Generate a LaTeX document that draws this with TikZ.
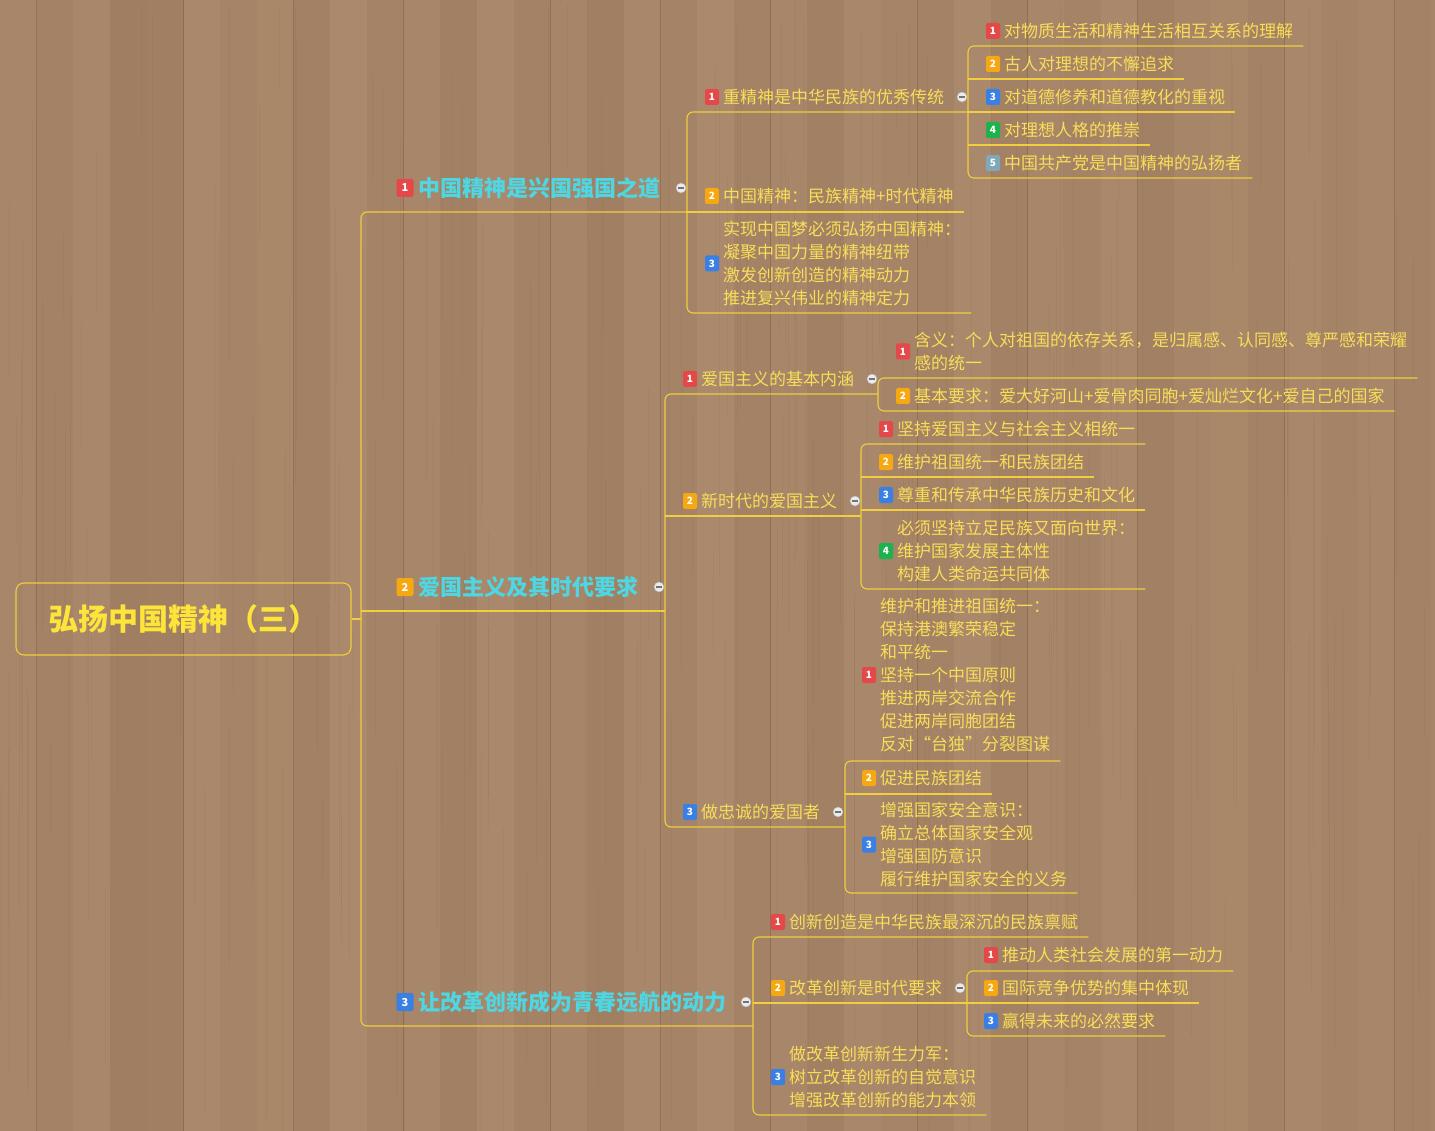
\documentclass[tikz,border=0pt]{standalone}
\usepackage{fontspec}
\setmainfont{Noto Sans CJK SC}
\usetikzlibrary{calc}
\definecolor{woodL}{RGB}{182,148,118}
\definecolor{woodD}{RGB}{150,116,88}
\definecolor{seamc}{RGB}{128,96,72}
\definecolor{linec}{RGB}{240,206,62}
\definecolor{leafc}{RGB}{248,222,88}
\definecolor{rootc}{RGB}{252,228,58}
\definecolor{cyanc}{RGB}{78,214,226}
\definecolor{redc}{RGB}{228,72,72}
\definecolor{orgc}{RGB}{246,168,18}
\definecolor{bluec}{RGB}{58,128,228}
\definecolor{grnc}{RGB}{28,178,78}
\definecolor{gryc}{RGB}{128,168,184}
\newcommand\mtopic[7]{\node[badge,fill=#2] (#1b) at (#4,#5) {#3};\node[leaf] (#1) at (#6,#5) {#7};}
\newcommand\ulline[3]{\draw[br] (#2,#3) -- ($(#1.east |- 0,#3)+(10,0)$);}
\begin{document}
\begin{tikzpicture}[x=1pt,y=-1pt,
  br/.style={draw=linec,line width=1.1pt},
  badge/.style={rectangle,rounded corners=2pt,minimum width=14pt,minimum height=16pt,inner sep=0pt,text=white,font=\fontsize{10}{10}\selectfont\bfseries},
  bigbadge/.style={badge,minimum width=17pt,minimum height=18pt,font=\fontsize{11}{11}\selectfont\bfseries},
  leaf/.style={anchor=west,inner sep=0pt,align=left,text=leafc,font=\fontsize{17}{23}\selectfont},
  branch/.style={anchor=west,inner sep=0pt,text=cyanc,font=\fontsize{22}{26}\selectfont\bfseries},
  mincirc/.style={circle,fill=white!92!black,draw=black!30,line width=0.5pt,minimum size=10pt,inner sep=0pt,
    path picture={\draw[black!55,line width=1.3pt] ([xshift=-2.6pt]path picture bounding box.center) -- ([xshift=2.6pt]path picture bounding box.center);}},
  seam/.style={draw=seamc,line width=0.6pt,opacity=0.55},
  grain/.style={draw=seamc,line width=0.5pt,opacity=0.12}
]
\useasboundingbox (0,0) rectangle (1435,1131);
% wood background
\fill[woodL!55!woodD] (0,0) rectangle (1435,1131);
\foreach \i/\p in {0/55,1/45,2/60,3/30,4/35,5/62,6/50,7/58,8/40,9/66,10/48,11/55,12/38,13/62,14/45,15/52,16/35,17/60,18/48,19/65,20/42,21/55,22/36,23/60,24/50,25/44,26/63,27/40,28/56,29/47,30/62,31/38,32/52,33/58,34/43,35/60,36/48,37/55,38/45,39/52} {
  \fill[woodL!\p!woodD] ({\i*36.7},0) rectangle ({(\i+1)*36.7},1131);
  \draw[seam] ({(\i+1)*36.7},0) -- ({(\i+1)*36.7},1131);
}
\pgfmathsetseed{11}
\foreach \k in {1,...,220} {
  \pgfmathsetmacro\gx{rnd*1435}
  \pgfmathsetmacro\gy{rnd*900}
  \pgfmathsetmacro\gl{80+rnd*400}
  \draw[grain] (\gx,\gy) -- (\gx,\gy+\gl);
}
% root
\node[draw=linec,line width=1.1pt,rounded corners=8pt,minimum width=335pt,minimum height=72pt,inner sep=0pt,text=rootc,font=\fontsize{30}{34}\selectfont\bfseries] (root) at (183.5,619) {弘扬中国精神（三）};
% main branches
\node[bigbadge,fill=redc] (b1b) at (405,188) {1};
\node[branch] (b1) at (418,188) {中国精神是兴国强国之道};
\node[bigbadge,fill=orgc] (b2b) at (405,587) {2};
\node[branch] (b2) at (418,587) {爱国主义及其时代要求};
\node[bigbadge,fill=bluec] (b3b) at (405,1002) {3};
\node[branch] (b3) at (418,1002) {让改革创新成为青春远航的动力};
% branch 1
\mtopic{s11}{redc}{1}{712}{97}{723}{重精神是中华民族的优秀传统}
\mtopic{s12}{orgc}{2}{712}{196}{723}{中国精神：民族精神+时代精神}
\mtopic{s13}{bluec}{3}{712}{263.5}{723}{实现中国梦必须弘扬中国精神：\\凝聚中国力量的精神纽带\\激发创新创造的精神动力\\推进复兴伟业的精神定力}
\mtopic{l111}{redc}{1}{993}{31}{1004}{对物质生活和精神生活相互关系的理解}
\mtopic{l112}{orgc}{2}{993}{64}{1004}{古人对理想的不懈追求}
\mtopic{l113}{bluec}{3}{993}{97}{1004}{对道德修养和道德教化的重视}
\mtopic{l114}{grnc}{4}{993}{130}{1004}{对理想人格的推崇}
\mtopic{l115}{gryc}{5}{993}{163}{1004}{中国共产党是中国精神的弘扬者}
% branch 2
\mtopic{s21}{redc}{1}{690}{379}{701}{爱国主义的基本内涵}
\mtopic{l211}{redc}{1}{903}{351.5}{914}{含义：个人对祖国的依存关系，是归属感、认同感、尊严感和荣耀\\感的统一}
\mtopic{l212}{orgc}{2}{903}{396}{914}{基本要求：爱大好河山+爱骨肉同胞+爱灿烂文化+爱自己的国家}
\mtopic{s22}{orgc}{2}{690}{501}{701}{新时代的爱国主义}
\mtopic{l221}{redc}{1}{886}{429}{897}{坚持爱国主义与社会主义相统一}
\mtopic{l222}{orgc}{2}{886}{462}{897}{维护祖国统一和民族团结}
\mtopic{l223}{bluec}{3}{886}{495}{897}{尊重和传承中华民族历史和文化}
\mtopic{l224}{grnc}{4}{886}{551}{897}{必须坚持立足民族又面向世界：\\维护国家发展主体性\\构建人类命运共同体}
\mtopic{s23}{bluec}{3}{690}{812}{701}{做忠诚的爱国者}
\mtopic{l231}{redc}{1}{869}{675}{880}{维护和推进祖国统一：\\保持港澳繁荣稳定\\和平统一\\坚持一个中国原则\\推进两岸交流合作\\促进两岸同胞团结\\反对“台独”分裂图谋}
\mtopic{l232}{orgc}{2}{869}{778}{880}{促进民族团结}
\mtopic{l233}{bluec}{3}{869}{844.5}{880}{增强国家安全意识：\\确立总体国家安全观\\增强国防意识\\履行维护国家安全的义务}
% branch 3
\mtopic{s31}{redc}{1}{778}{922}{789}{创新创造是中华民族最深沉的民族禀赋}
\mtopic{s32}{orgc}{2}{778}{988}{789}{改革创新是时代要求}
\mtopic{l321}{redc}{1}{991}{955}{1002}{推动人类社会发展的第一动力}
\mtopic{l322}{orgc}{2}{991}{988}{1002}{国际竞争优势的集中体现}
\mtopic{l323}{bluec}{3}{991}{1021}{1002}{赢得未来的必然要求}
\mtopic{s33}{bluec}{3}{778}{1077}{789}{做改革创新新生力军：\\树立改革创新的自觉意识\\增强改革创新的能力本领}
% connectors: root
\draw[br] (root.east) -- (361,619);
\draw[br,rounded corners=6pt] (687,212) -- (361,212) -- (361,1026) -- (753,1026);
\draw[br] (361,611) -- (665,611);
% group branch 1
\draw[br,rounded corners=6pt] (968,112) -- (687,112) -- (687,313) -- ($(s13.east |- 0,313)+(10,0)$);
\ulline{s12}{687}{212}
% group s11
\draw[br,rounded corners=6pt] ($(l111.east |- 0,46)+(10,0)$) -- (968,46) -- (968,178) -- ($(l115.east |- 0,178)+(10,0)$);
\ulline{l112}{968}{79}
\ulline{l113}{968}{112}
\ulline{l114}{968}{145}
% group branch 2
\draw[br,rounded corners=6pt] (878,394) -- (665,394) -- (665,827) -- (845,827);
\draw[br] (665,516) -- (861,516);
\draw[br,rounded corners=6pt] ($(l211.east |- 0,378)+(10,0)$) -- (878,378) -- (878,411) -- ($(l212.east |- 0,411)+(10,0)$);
\draw[br,rounded corners=6pt] ($(l221.east |- 0,444)+(10,0)$) -- (861,444) -- (861,589) -- ($(l224.east |- 0,589)+(10,0)$);
\ulline{l222}{861}{477}
\ulline{l223}{861}{510}
\draw[br,rounded corners=6pt] ($(l231.east |- 0,761)+(10,0)$) -- (845,761) -- (845,893) -- ($(l233.east |- 0,893)+(10,0)$);
\ulline{l232}{845}{794}
% group branch 3
\draw[br,rounded corners=6pt] ($(s31.east |- 0,937)+(10,0)$) -- (753,937) -- (753,1115) -- ($(s33.east |- 0,1115)+(10,0)$);
\draw[br] (753,1003) -- (967,1003);
\draw[br,rounded corners=6pt] ($(l321.east |- 0,971)+(10,0)$) -- (967,971) -- (967,1036) -- ($(l323.east |- 0,1036)+(10,0)$);
\ulline{l322}{967}{1003}
% collapse markers
\node[mincirc] (m1) at (681,188) {};
\node[mincirc] (m2) at (659,587) {};
\node[mincirc] (m3) at (746,1002) {};
\node[mincirc] (m11) at (962,97) {};
\node[mincirc] (m21) at (872,379) {};
\node[mincirc] (m22) at (855,501) {};
\node[mincirc] (m23) at (838,812) {};
\node[mincirc] (m32) at (960,988) {};
\end{tikzpicture}
\end{document}
